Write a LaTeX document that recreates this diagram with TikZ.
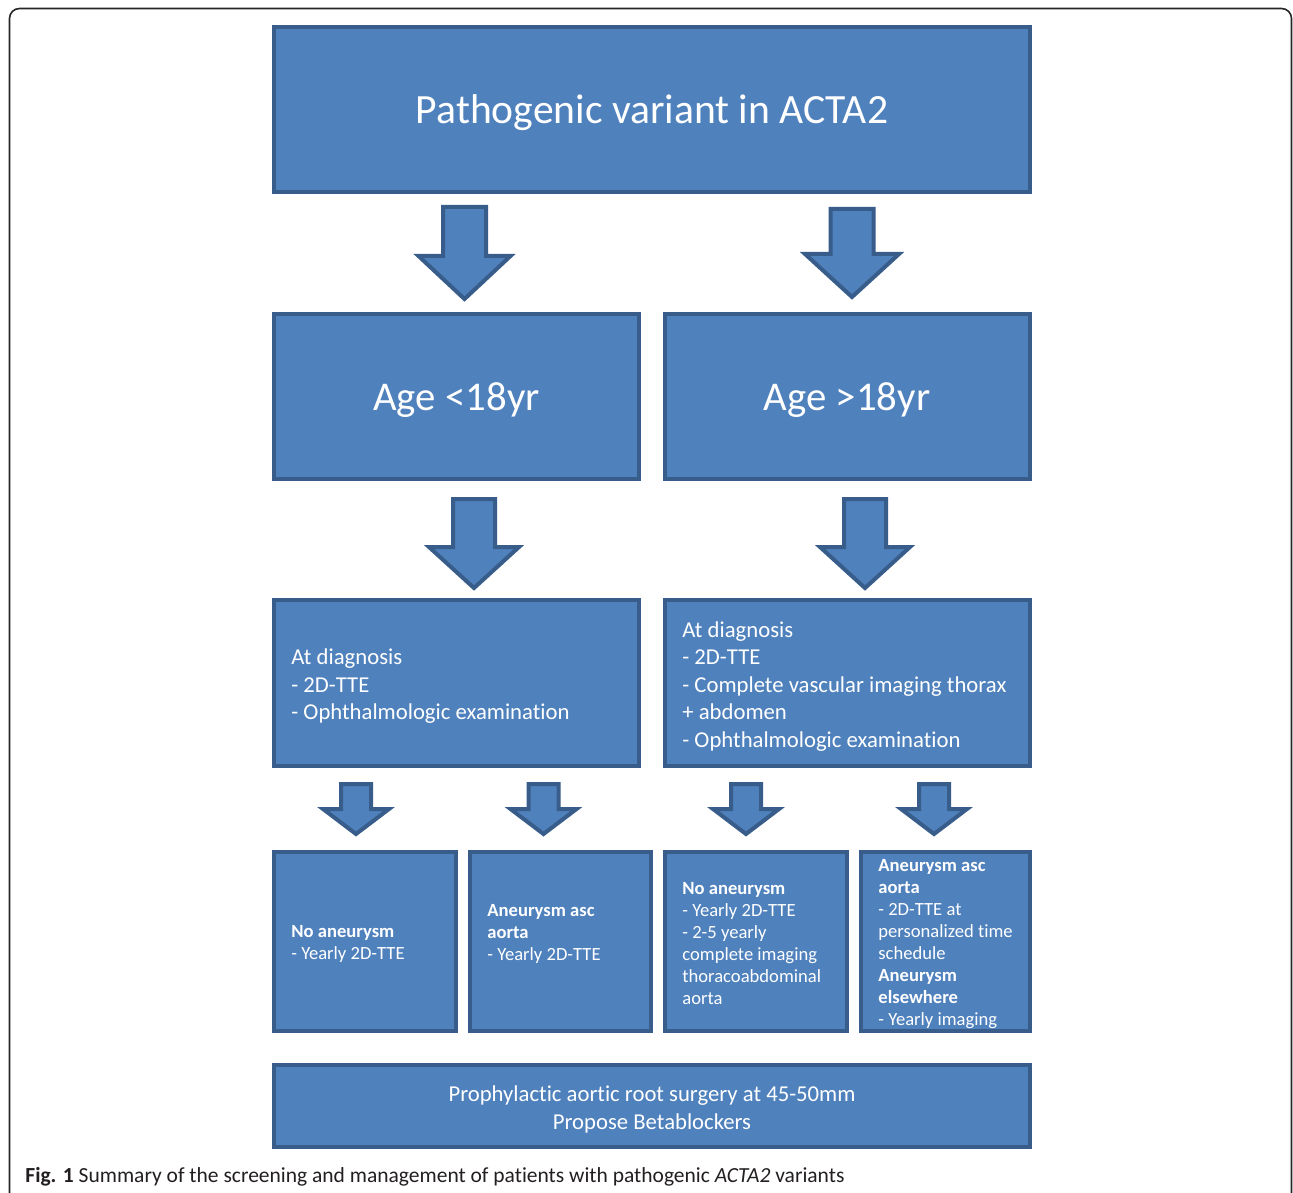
\documentclass[tikz,border=0pt]{standalone}
\usepackage{fontspec}
\setmainfont{Carlito}[Ligatures={TeX,NoCommon}]
\usetikzlibrary{fit}
\definecolor{boxfill}{HTML}{4F81BD}
\definecolor{boxline}{HTML}{385D8A}
\definecolor{captxt}{HTML}{231F20}
\tikzset{
  box/.style={draw=boxline, fill=boxfill, line width=2pt, inner sep=0pt},
  blockarrow/.style={draw=boxline, fill=boxfill, line width=2pt, line join=miter},
  bigtxt/.style={text=white, font=\fontsize{20.4pt}{24pt}\selectfont, inner sep=0pt},
  midtxt/.style={text=white, font=\fontsize{11.35pt}{13.75pt}\selectfont, align=left, inner sep=0pt, anchor=west},
  ctrtxt/.style={text=white, font=\fontsize{11.35pt}{14pt}\selectfont, align=center, inner sep=0pt},
  smalltxt/.style={text=white, font=\fontsize{9.3pt}{11pt}\selectfont, align=left, inner sep=0pt, anchor=west},
  frame/.style={draw=black!85, line width=0.8pt, rounded corners=5pt},
}
% cx, top, base, tip, shaft half width, head half width
\newcommand\blockdown[6]{%
  \draw[blockarrow] ({#1-#5},#2) -- ({#1+#5},#2) -- ({#1+#5},#3) -- ({#1+#6},#3)
    -- (#1,#4) -- ({#1-#6},#3) -- ({#1-#5},#3) -- cycle;}
\begin{document}
\begin{tikzpicture}[x=0.5pt, y=-0.5pt]
  \useasboundingbox (0,0) rectangle (1293,1192);
  \fill[white] (0,0) rectangle (1293,1192);
  \begin{scope}
    \clip (0,0) rectangle (1293,1192);
    \draw[frame] (9.5,8.5) rectangle (1291.5,1220);
  \end{scope}

  % boxes
  \node[box, fit={(274,27) (1030,192)}] (top) {};
  \node[box, fit={(274,313.5) (639,479)}] (young) {};
  \node[box, fit={(664.5,313.5) (1030,479)}] (adult) {};
  \node[box, fit={(274,600) (639,766)}] (diagL) {};
  \node[box, fit={(664.5,600) (1030,766)}] (diagR) {};
  \node[box, fit={(274,852) (455.5,1031)}] (s1) {};
  \node[box, fit={(470,852) (650.5,1031)}] (s2) {};
  \node[box, fit={(665,852) (847,1031)}] (s3) {};
  \node[box, fit={(861,852) (1030,1031)}] (s4) {};
  \node[box, fit={(274,1065) (1030,1147)}] (surg) {};

  % block arrows
  \blockdown{464.5}{207}{256}{299}{21.5}{46}
  \blockdown{852}{209}{254}{297}{21.5}{47}
  \blockdown{474}{499}{547}{588}{21}{45}
  \blockdown{865}{499}{547}{588}{21}{45}
  \blockdown{356}{784}{809}{834}{15}{33}
  \blockdown{543.5}{784}{809}{834}{15}{33}
  \blockdown{746}{784}{809}{834}{15}{33}
  \blockdown{934}{784}{809}{834}{15}{33}

  % texts
  \node[bigtxt, font=\fontsize{20.8pt}{24pt}\selectfont] (ttop) at (652,113) {Pathogenic variant in ACTA2};
  \node[bigtxt] (tyoung) at (456.5,400) {Age <18yr};
  \node[bigtxt] (tadult) at (847,400) {Age >18yr};
  \node[midtxt] (tdiagL) at (291,686.5) {At diagnosis\\- 2D-TTE\\- Ophthalmologic examination};
  \node[midtxt] (tdiagR) at (682,686.5) {At diagnosis\\- 2D-TTE\\- Complete vascular imaging thorax\\+ abdomen\\- Ophthalmologic examination};
  \node[smalltxt] (ts1) at (291,944) {\textbf{No aneurysm}\\- Yearly 2D-TTE};
  \node[smalltxt] (ts2) at (487,933.5) {\textbf{Aneurysm asc}\\\textbf{aorta}\\- Yearly 2D-TTE};
  \node[smalltxt] (ts3) at (682,944) {\textbf{No aneurysm}\\- Yearly 2D-TTE\\- 2-5 yearly\\complete imaging\\thoracoabdominal\\aorta};
  \node[smalltxt] (ts4) at (878,944.5) {\textbf{Aneurysm asc}\\\textbf{aorta}\\- 2D-TTE at\\personalized time\\schedule\\\textbf{Aneurysm}\\\textbf{elsewhere}\\- Yearly imaging};
  \node[ctrtxt] (tsurg) at (652,1109) {Prophylactic aortic root surgery at 45-50mm\\Propose Betablockers};

  % caption
  \node[anchor=west, inner sep=0pt, text=captxt, font=\fontsize{10.75pt}{12pt}\selectfont] (cap) at (25,1176.5)
    {\textbf{Fig. 1} Summary of the screening and management of patients with pathogenic \textit{ACTA2} variants};
\end{tikzpicture}
\end{document}
